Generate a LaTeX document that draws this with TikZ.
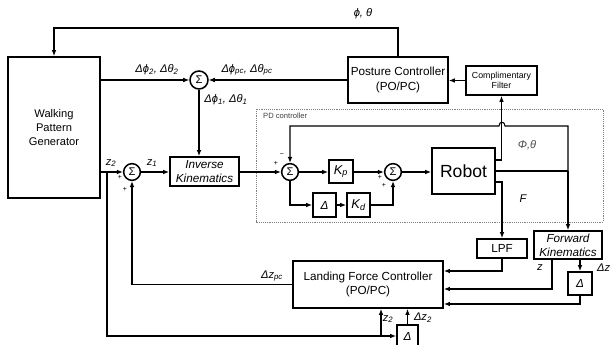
\documentclass[tikz,border=0pt]{standalone}
\usepackage{fontspec}
\setmainfont{Liberation Sans}
\usetikzlibrary{arrows.meta,positioning}

\begin{document}
\begin{tikzpicture}[x=0.03cm, y=-0.03cm, every node/.style={font=\fontsize{9.5}{12.3}\selectfont,align=center,inner sep=0pt}, blk/.style={draw,line width=1.5pt}, sumnode/.style={draw,circle,line width=1.3pt,minimum size=0.5cm,font=\fontsize{9.5}{9.5}\selectfont}, arr/.style={-{Latex[length=1.8mm,width=1.4mm]},line width=0.9pt}, ln/.style={line width=0.9pt}, lbl/.style={font=\fontsize{9.5}{11}\selectfont\itshape}, sgn/.style={font=\fontsize{6}{6}\selectfont}]
\useasboundingbox (0,0) rectangle (610,345);
\draw[gray,densely dotted,line width=0.6pt] (256,109) rectangle (603,222);
\node[anchor=west,font=\fontsize{6.5}{7}\selectfont,text=black!75] (pdlbl) at (263,116) {PD controller};
\node[blk,minimum width=2.76cm,minimum height=4.23cm] (wpg) at (54,127.5) {Walking\\Pattern\\Generator};
\node[blk,minimum width=3cm,minimum height=1.38cm,font=\fontsize{10}{12.3}\selectfont] (pc) at (398,80) {Posture Controller\\(PO/PC)};
\node[blk,minimum width=2.13cm,minimum height=0.87cm,font=\fontsize{7.5}{9}\selectfont] (cf) at (501.5,80.5) {Complimentary\\Filter};
\node[sumnode,minimum size=0.54cm] (stop) at (199,80) {Σ};
\node[sumnode] (sz) at (132,172) {Σ};
\node[blk,minimum width=2.07cm,minimum height=0.87cm,font=\fontsize{10}{12}\selectfont\itshape] (ik) at (204.5,171.5) {Inverse\\Kinematics};
\node[sumnode] (s1) at (290,172) {Σ};
\node[blk,minimum width=0.72cm,minimum height=0.69cm,font=\fontsize{11}{12}\selectfont\itshape] (kp) at (341,171.5) {K\textsubscript{p}};
\node[blk,minimum width=0.69cm,minimum height=0.72cm,font=\fontsize{10}{12}\selectfont\itshape] (dpd) at (324.5,205) {Δ};
\node[blk,minimum width=0.69cm,minimum height=0.72cm,font=\fontsize{11}{12}\selectfont\itshape] (kd) at (358.5,205) {K\textsubscript{d}};
\node[sumnode] (s2) at (393,172) {Σ};
\node[blk,minimum width=1.89cm,minimum height=1.38cm,font=\fontsize{15}{16}\selectfont] (robot) at (463.5,171) {Robot};
\node[blk,minimum width=1.5cm,minimum height=0.57cm,font=\fontsize{10}{12}\selectfont] (lpf) at (502,248.5) {LPF};
\node[blk,minimum width=2.04cm,minimum height=0.84cm,font=\fontsize{10}{12}\selectfont\itshape] (fk) at (568,245) {Forward\\Kinematics};
\node[blk,minimum width=0.72cm,minimum height=0.69cm,font=\fontsize{10}{12}\selectfont\itshape] (dz) at (580,283.5) {Δ};
\node[blk,minimum width=4.5cm,minimum height=1.41cm,font=\fontsize{10}{12.3}\selectfont] (lfc) at (368,284.5) {Landing Force Controller\\(PO/PC)};
\node[blk,minimum width=0.63cm,minimum height=0.66cm,font=\fontsize{10}{12}\selectfont\itshape] (dbot) at (407.5,336) {Δ};
\coordinate (jn) at (568,171);
\coordinate (zsplit) at (107,172);
\coordinate (zjoin) at (381,336);
\draw[arr] (pc.north) -- (pc.north |- 0,28) -| (wpg.north);
\draw[arr] (wpg.east |- stop) -- (stop);
\draw[arr] (pc.west |- stop) -- (stop);
\draw[arr] (cf.west) -- (pc.east |- cf.west);
\draw[arr] (stop) -- (stop |- ik.north);
\draw[arr] (wpg.east |- sz) -- (sz);
\draw[arr] (sz) -- (ik.west |- sz);
\draw[arr] (ik.east |- s1) -- (s1);
\draw[arr] (s1) -- (kp.west |- s1);
\draw[arr] (kp.east |- s2) -- (s2);
\draw[arr] (s2) -- (robot.west |- s2);
\draw[arr] (s1) |- (dpd);
\draw[arr] (dpd) -- (kd);
\draw[arr] (kd) -| (s2);
\draw[arr] (robot.east |- 0,160) -| (cf.south);
\draw[ln] (robot.east |- jn) -- (jn);
\draw[arr] (jn) -- (fk.north);
\draw[arr] (jn) -- (568,126) -- (505,126) .. controls (505,121) and (499,121) .. (499,126) -- (290,126) -- (s1);
\draw[arr] (robot.east |- 0,182) -| (lpf.north);
\draw[arr] (lpf.south) |- (lfc.east |- 0,271);
\draw[arr] (fk.south -| 552,0) |- (lfc.east |- 0,289);
\draw[arr] (fk.south -| dz) -- (dz);
\draw[arr] (dz.south) |- (lfc.east |- 0,304);
\draw[arr] (lfc.west) -| (sz);
\draw[arr] (zsplit) |- (dbot);
\draw[arr] (zjoin) -- (lfc.south -| zjoin);
\draw[arr] (dbot) -- (dbot |- lfc.south);
\node[lbl] (lphth) at (363,14) {ϕ, θ};
\node[lbl] (ld2) at (157,70) {Δϕ\textsubscript{2}, Δθ\textsubscript{2}};
\node[lbl] (ldpc) at (247,70) {Δϕ\textsubscript{pc}, Δθ\textsubscript{pc}};
\node[lbl] (ld1) at (226,100) {Δϕ\textsubscript{1}, Δθ\textsubscript{1}};
\node[lbl] (lz2) at (111,163) {z\textsubscript{2}};
\node[lbl] (lz1) at (152,163) {z\textsubscript{1}};
\node[lbl] (ldzpc) at (272,276) {Δz\textsubscript{pc}};
\node[lbl,text=black!70] (lrphth) at (527,145) {Φ,θ};
\node[lbl] (lf) at (523,199) {F};
\node[lbl] (lz) at (540,268) {z};
\node[lbl,anchor=west] (ldz) at (597,268) {Δz};
\node[lbl] (lz2b) at (388,319) {z\textsubscript{2}};
\node[lbl] (ldz2) at (423,318) {Δz\textsubscript{2}};
\node[sgn] (pz1) at (120,177) {+};
\node[sgn] (pz2) at (125,189) {+};
\node[sgn] (m11) at (282,155) {−};
\node[sgn] (p12) at (276,163) {+};
\node[sgn] (p21) at (380,177) {+};
\node[sgn] (p22) at (384,185) {+};
\end{tikzpicture}
\end{document}
